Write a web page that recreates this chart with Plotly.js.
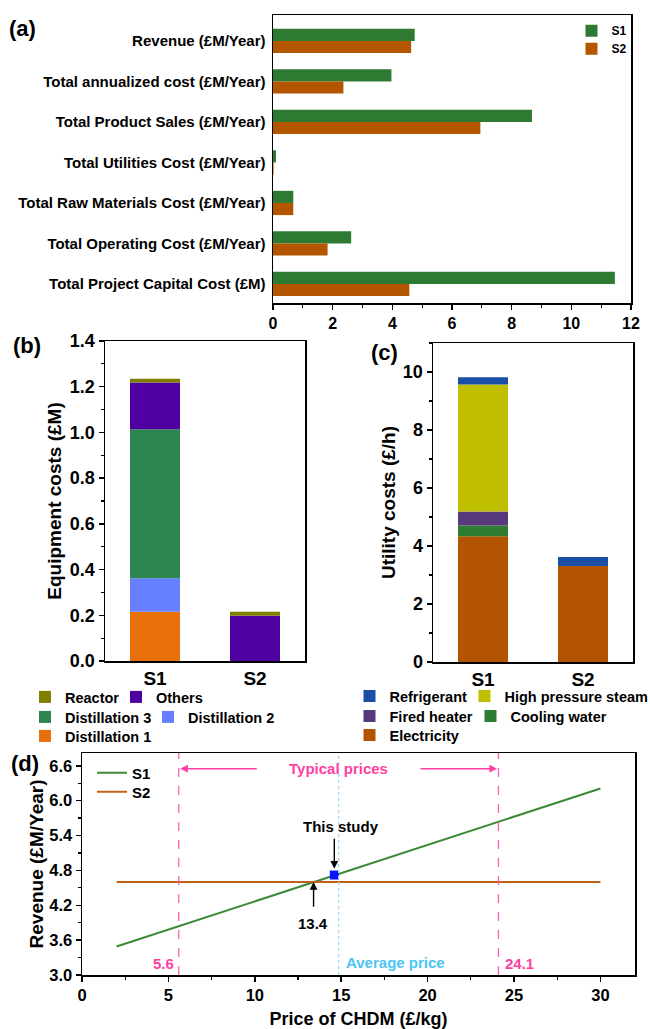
<!DOCTYPE html>
<html><head><meta charset="utf-8">
<script src="https://cdn.plot.ly/plotly-3.0.1.min.js"></script>
<style>html,body{margin:0;padding:0;background:#fff}</style>
</head><body><div id="chart" style="width:651px;height:1029px"></div>
<script>
// ---------- (a) economic indicators ----------
const metricLabels = ['Revenue (£M/Year)', 'Total annualized cost (£M/Year)', 'Total Product Sales (£M/Year)',
  'Total Utilities Cost (£M/Year)', 'Total Raw Materials Cost (£M/Year)', 'Total Operating Cost (£M/Year)',
  'Total Project Capital Cost (£M)'];
const metricS1 = [4.75, 3.97, 8.68, 0.10, 0.68, 2.62, 11.46];
const metricS2 = [4.63, 2.36, 6.95, 0.02, 0.68, 1.83, 4.57];

// ---------- (b) equipment costs (£M) ----------
const scenarios = ['S1', 'S2'];
const equipDistillation1 = [0.216, 0];
const equipDistillation2 = [0.146, 0];
const equipDistillation3 = [0.652, 0];
const equipOthers = [0.204, 0.198];
const equipReactor = [0.017, 0.018];

// ---------- (c) utility costs (£/h) ----------
const utilElectricity = [4.34, 3.31];
const utilCoolingWater = [0.37, 0];
const utilFiredHeater = [0.48, 0];
const utilHPSteam = [4.38, 0];
const utilRefrigerant = [0.25, 0.31];

// ---------- (d) revenue vs price ----------
const priceCHDM = [2, 30];
const revenueS1 = [3.49, 6.21];
const revenueS2 = [4.60, 4.60];
const thisStudyPrice = [14.6];
const thisStudyRevenue = [4.72];
const typicalPriceBounds = [5.6, 24.1];
const averagePrice = 14.85;
const breakEvenPrice = 13.4;

const F = 'Liberation Sans, Arial, sans-serif';
const W = 651, H = 1029;
const px = p => p / W, py = p => 1 - p / H;
const BOLD = (size, color) => ({family: F, size: size, weight: 'bold', color: color || '#000'});

const traces = [];
// (a)
traces.push({type: 'bar', orientation: 'h', name: 'S1', y: metricLabels, x: metricS1, xaxis: 'x', yaxis: 'y',
  width: 0.3, offset: -0.3, marker: {color: '#2f7a32'}, legend: 'legend'});
traces.push({type: 'bar', orientation: 'h', name: 'S2', y: metricLabels, x: metricS2, xaxis: 'x', yaxis: 'y',
  width: 0.3, offset: 0, marker: {color: '#b45500'}, legend: 'legend10'});

function addStack(names, series, colors, legends, ranks, lwidths, xa, ya) {
  const cum = scenarios.map(() => 0);
  names.forEach((n, i) => {
    const vals = series[i];
    const base = cum.slice();
    vals.forEach((v, j) => { cum[j] += v; });
    const t = {type: 'bar', name: n, x: scenarios, y: vals, base: base, width: 0.5,
      xaxis: xa, yaxis: ya, marker: {color: colors[i]}, legend: legends[i], legendrank: ranks[i]};
    if (lwidths[i]) t.legendwidth = lwidths[i];
    traces.push(t);
  });
}
// (b) bottom -> top
addStack(['Distillation 1', 'Distillation 2', 'Distillation 3', 'Others', 'Reactor'],
  [equipDistillation1, equipDistillation2, equipDistillation3, equipOthers, equipReactor],
  ['#e8700a', '#6680ff', '#2e8650', '#4e00a0', '#7f7f00'],
  ['legend4', 'legend3', 'legend3', 'legend2', 'legend2'],
  [1, 2, 1, 2, 1],
  [0, 0, 78, 0, 46], 'x2', 'y2');
// (c) bottom -> top
addStack(['Electricity', 'Cooling water', 'Fired heater', 'High pressure steam', 'Refrigerant'],
  [utilElectricity, utilCoolingWater, utilFiredHeater, utilHPSteam, utilRefrigerant],
  ['#b35400', '#2e7d32', '#573a7c', '#bfbf00', '#1a4fa5'],
  ['legend7', 'legend6', 'legend6', 'legend5', 'legend5'],
  [1, 2, 1, 2, 1],
  [0, 0, 76, 0, 70], 'x3', 'y3');

// (d)
traces.push({type: 'scatter', mode: 'lines', name: 'S1', x: priceCHDM, y: revenueS1, xaxis: 'x4', yaxis: 'y4',
  line: {color: '#3a8a35', width: 2}, legend: 'legend8'});
traces.push({type: 'scatter', mode: 'lines', name: 'S2', x: priceCHDM, y: revenueS2, xaxis: 'x4', yaxis: 'y4',
  line: {color: '#c0631a', width: 2}, legend: 'legend9'});
traces.push({type: 'scatter', mode: 'markers', name: 'This study', x: thisStudyPrice, y: thisStudyRevenue,
  xaxis: 'x4', yaxis: 'y4', marker: {symbol: 'square', size: 9, color: '#0a14ff'}, showlegend: false});

const axisBase = {showline: true, mirror: true, linecolor: '#000', linewidth: 1.5, showgrid: false, zeroline: false,
  ticks: 'outside', ticklen: 5, tickwidth: 1.5, tickcolor: '#000', tickfont: BOLD(14)};
const minor = d => ({dtick: d, ticks: 'outside', ticklen: 3, tickwidth: 1.2, tickcolor: '#000', showgrid: false});

const pink = '#ff3fa4', sky = '#4cc4f4';
const shapes = [];
typicalPriceBounds.forEach(p => shapes.push({type: 'line', xref: 'x4', yref: 'y4 domain', x0: p, x1: p, y0: 0, y1: 1,
  line: {color: '#ff5fae', width: 1.3, dash: 'dash'}}));
shapes.push({type: 'line', xref: 'x4', yref: 'y4 domain', x0: averagePrice, x1: averagePrice, y0: 0, y1: 1,
  line: {color: '#9ad8f5', width: 1.3, dash: 'dot'}});

const panelLabel = (t, x, y) => ({text: t, xref: 'paper', yref: 'paper', x: px(x), y: py(y), xanchor: 'left',
  yanchor: 'middle', showarrow: false, font: BOLD(22)});
const dtext = (t, x, y, color, xanchor) => ({text: t, xref: 'x4', yref: 'y4', x: x, y: y, showarrow: false,
  xanchor: xanchor || 'center', yanchor: 'middle', font: BOLD(15, color)});
const darrow = (x, y, ax, ay, color) => ({text: '', xref: 'x4', yref: 'y4', axref: 'x4', ayref: 'y4', x: x, y: y,
  ax: ax, ay: ay, showarrow: true, arrowhead: 2, arrowsize: 1.1, arrowwidth: 1.4, arrowcolor: color, standoff: 0, startstandoff: 0});

const annotations = [
  panelLabel('(a)', 7, 28), panelLabel('(b)', 11, 345), panelLabel('(c)', 369, 352), panelLabel('(d)', 9, 763),
  dtext('Typical prices', 14.85, 6.55, pink),
  darrow(typicalPriceBounds[0] + 0.08, 6.55, 10.2, 6.55, pink),
  darrow(typicalPriceBounds[1] - 0.08, 6.55, 19.5, 6.55, pink),
  dtext('This study', 15.0, 5.55, '#000'),
  darrow(thisStudyPrice[0], 4.83, thisStudyPrice[0], 5.37, '#000'),
  dtext(String(breakEvenPrice), 13.37, 3.89, '#000'),
  darrow(breakEvenPrice, 4.6, breakEvenPrice, 4.15, '#000'),
  dtext(String(typicalPriceBounds[0]), 5.45, 3.19, pink, 'right'),
  dtext(String(typicalPriceBounds[1]), 24.35, 3.19, pink, 'left'),
  dtext('Average price', 15.15, 3.22, sky, 'left')
];

const hLegend = (x, y, size) => ({orientation: 'h', x: px(x), y: py(y), xanchor: 'left',
  yanchor: 'middle', bgcolor: 'rgba(0,0,0,0)', font: BOLD(size), traceorder: 'normal'});

const layout = {
  width: W, height: H, margin: {l: 0, r: 0, t: 0, b: 0, autoexpand: false}, paper_bgcolor: '#fff', plot_bgcolor: '#fff',
  font: {family: F, color: '#000'}, barmode: 'overlay', showlegend: true,
  xaxis: Object.assign({}, axisBase, {domain: [px(273), px(631)], anchor: 'y', range: [0, 12], dtick: 2,
    minor: minor(1), tickfont: BOLD(16)}),
  yaxis: Object.assign({}, axisBase, {domain: [py(303), py(15)], anchor: 'x', type: 'category',
    categoryorder: 'array', categoryarray: metricLabels, range: [6.47, -0.64], autorange: false,
    ticks: '', tickfont: BOLD(15), ticklabelstandoff: 3}),
  xaxis2: Object.assign({}, axisBase, {domain: [px(105), px(305)], anchor: 'y2', type: 'category', range: [-0.5, 1.5],
    ticks: '', tickfont: BOLD(19)}),
  yaxis2: Object.assign({}, axisBase, {domain: [py(661), py(341)], anchor: 'x2', range: [0, 1.4], dtick: 0.2,
    tickformat: '.1f', minor: minor(0.1), tickfont: BOLD(18),
    title: {text: 'Equipment costs (£M)', font: BOLD(19), standoff: 3}}),
  xaxis3: Object.assign({}, axisBase, {domain: [px(433), px(633)], anchor: 'y3', type: 'category', range: [-0.5, 1.5],
    ticks: '', tickfont: BOLD(19)}),
  yaxis3: Object.assign({}, axisBase, {domain: [py(662), py(343)], anchor: 'x3', range: [0, 11], dtick: 2,
    minor: minor(1), tickfont: BOLD(18),
    title: {text: 'Utility costs (£/h)', font: BOLD(19), standoff: 2}}),
  xaxis4: Object.assign({}, axisBase, {domain: [px(82), px(635)], anchor: 'y4', range: [0, 32], dtick: 5,
    minor: minor(2.5), tickfont: BOLD(16.5),
    title: {text: 'Price of CHDM (£/kg)', font: BOLD(18), standoff: 11}}),
  yaxis4: Object.assign({}, axisBase, {domain: [py(975), py(753)], anchor: 'x4', range: [3, 6.82], dtick: 0.6,
    tickformat: '.1f', minor: minor(0.3), tickfont: BOLD(16.5),
    title: {text: 'Revenue (£M/Year)', font: BOLD(19), standoff: 0}}),
  legend: hLegend(571.5, 30.7, 12),
  legend10: hLegend(571.5, 48.7, 12),
  legend2: hLegend(25, 697, 14.5),
  legend3: hLegend(25, 717, 14.5),
  legend4: hLegend(25, 736, 14.5),
  legend5: hLegend(349.5, 696, 14.5),
  legend6: hLegend(349.5, 716, 14.5),
  legend7: hLegend(349.5, 735, 14.5),
  legend8: hLegend(92, 773, 15),
  legend9: hLegend(92, 792, 15),
  shapes: shapes,
  annotations: annotations
};

Plotly.newPlot('chart', traces, layout, {staticPlot: true, displayModeBar: false});
</script></body></html>
